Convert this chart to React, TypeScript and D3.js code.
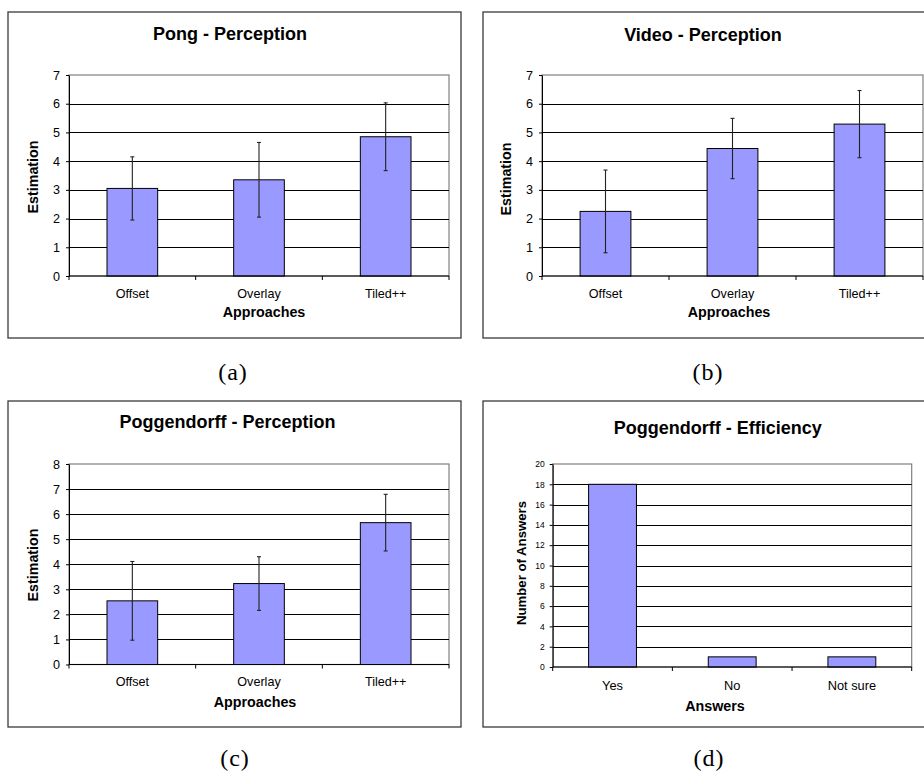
import React, { useRef, useEffect } from "react";
import * as d3 from "d3";

// categories
const approaches = ["Offset", "Overlay", "Tiled++"];
const answers = ["Yes", "No", "Not sure"];

// Pong - Perception
const pongMean = [3.05, 3.35, 4.85];
const pongErr = [1.1, 1.3, 1.18];

// Video - Perception
const videoMean = [2.25, 4.44, 5.29];
const videoErr = [1.44, 1.05, 1.17];

// Poggendorff - Perception
const poggMean = [2.54, 3.23, 5.66];
const poggErr = [1.57, 1.07, 1.13];

// Poggendorff - Efficiency
const poggCounts = [18, 1, 1];

const captions = ["(a)", "(b)", "(c)", "(d)"];

const SANS = "'Liberation Sans', Arial, sans-serif";
const BAR = "#9999ff";

type Panel = {
  title: string;
  cats: string[];
  values: number[];
  errors?: number[];
  yMax: number;
  yStep: number;
  xTitle: string;
  yTitle: string;
  box: [number, number, number, number];
  plot: [number, number, number, number]; // left, top, right, bottom
  titleX: number;
  titleY: number;
  xTitleX: number;
  yTitleY: number;
  yTitleX: number;
  tickFont: number;
  yTickFont: number;
  yTitleFont: number;
  tickPad: number;
  xLabelPad: number;
  xTitleOff: number;
  caption: string;
  capX: number;
  capY: number;
};

const panels: Panel[] = [
  {
    title: "Pong - Perception", cats: approaches, values: pongMean, errors: pongErr,
    yMax: 7, yStep: 1, xTitle: "Approaches", yTitle: "Estimation",
    box: [8, 12, 461, 338], plot: [69, 75, 449, 276],
    titleX: 230, titleY: 40, xTitleX: 264, yTitleX: 32.5, yTitleY: 177,
    tickFont: 12.6, yTickFont: 12.6, yTitleFont: 14.3, tickPad: 6, xLabelPad: 13, xTitleOff: 41,
    caption: captions[0], capX: 233, capY: 380,
  },
  {
    title: "Video - Perception", cats: approaches, values: videoMean, errors: videoErr,
    yMax: 7, yStep: 1, xTitle: "Approaches", yTitle: "Estimation",
    box: [483, 12, 940, 338], plot: [542, 75, 923, 276],
    titleX: 703, titleY: 41, xTitleX: 729, yTitleX: 506, yTitleY: 179,
    tickFont: 12.6, yTickFont: 12.6, yTitleFont: 14.3, tickPad: 6, xLabelPad: 13, xTitleOff: 41,
    caption: captions[1], capX: 708, capY: 380,
  },
  {
    title: "Poggendorff - Perception", cats: approaches, values: poggMean, errors: poggErr,
    yMax: 8, yStep: 1, xTitle: "Approaches", yTitle: "Estimation",
    box: [8, 401, 461, 727], plot: [69, 464, 449, 664.5],
    titleX: 227.5, titleY: 428, xTitleX: 255, yTitleX: 32.5, yTitleY: 565,
    tickFont: 12.6, yTickFont: 12.6, yTitleFont: 14.3, tickPad: 6, xLabelPad: 13, xTitleOff: 42,
    caption: captions[2], capX: 235, capY: 766,
  },
  {
    title: "Poggendorff - Efficiency", cats: answers, values: poggCounts,
    yMax: 20, yStep: 2, xTitle: "Answers", yTitle: "Number of Answers",
    box: [483, 401, 960, 727], plot: [552.7, 464, 911.7, 667],
    titleX: 717.7, titleY: 434, xTitleX: 715, yTitleX: 521.7, yTitleY: 563,
    tickFont: 12.8, yTickFont: 8.5, yTitleFont: 13.2, tickPad: 5, xLabelPad: 14, xTitleOff: 44,
    caption: captions[3], capX: 709, capY: 766,
  },
];

function drawPanel(svg: d3.Selection<SVGSVGElement, unknown, null, undefined>, p: Panel) {
  const [L, T, R, B] = p.plot;
  const g = svg.append("g");

  // outer frame
  g.append("rect")
    .attr("x", p.box[0]).attr("y", p.box[1])
    .attr("width", p.box[2] - p.box[0]).attr("height", p.box[3] - p.box[1])
    .attr("fill", "white").attr("stroke", "#3a3a3a").attr("stroke-width", 1.3);

  const x = d3.scaleBand().domain(p.cats).range([L, R]).padding(0);
  const y = d3.scaleLinear().domain([0, p.yMax]).range([B, T]);
  const ticks = d3.range(0, p.yMax + p.yStep / 2, p.yStep);

  // plot area border
  g.append("rect")
    .attr("x", L).attr("y", T).attr("width", R - L).attr("height", B - T)
    .attr("fill", "white").attr("stroke", "#808080").attr("stroke-width", 1.2);

  // gridlines
  g.append("g")
    .selectAll("line")
    .data(ticks.filter(t => t > 0 && t < p.yMax))
    .join("line")
    .attr("x1", L).attr("x2", R)
    .attr("y1", d => Math.round(y(d)) + 0.5).attr("y2", d => Math.round(y(d)) + 0.5)
    .attr("stroke", "#000").attr("stroke-width", 1);

  // bars
  const bw = x.bandwidth() * 0.4;
  g.append("g")
    .selectAll("rect")
    .data(p.values)
    .join("rect")
    .attr("x", (d, i) => (x(p.cats[i]) as number) + x.bandwidth() * 0.3)
    .attr("y", d => y(d))
    .attr("width", bw)
    .attr("height", d => B - y(d))
    .attr("fill", BAR).attr("stroke", "#000").attr("stroke-width", 1);

  // error bars
  if (p.errors) {
    const eg = g.append("g").attr("stroke", "#222").attr("stroke-width", 1.1);
    p.values.forEach((v, i) => {
      const cx = (x(p.cats[i]) as number) + x.bandwidth() / 2;
      const e = p.errors![i];
      eg.append("line").attr("x1", cx).attr("x2", cx).attr("y1", y(v + e)).attr("y2", y(v - e));
      eg.append("line").attr("x1", cx - 2).attr("x2", cx + 2).attr("y1", y(v + e)).attr("y2", y(v + e));
      eg.append("line").attr("x1", cx - 2).attr("x2", cx + 2).attr("y1", y(v - e)).attr("y2", y(v - e));
    });
  }

  // y axis
  g.append("g")
    .attr("transform", `translate(${L},0)`)
    .call(d3.axisLeft(y).tickValues(ticks).tickFormat(d3.format("d")).tickSize(3).tickPadding(p.tickPad).tickSizeOuter(0))
    .call(a => a.select(".domain").attr("stroke", "#000"))
    .call(a => a.selectAll("text").style("font-size", `${p.yTickFont}px`).style("font-family", SANS).attr("fill", "#000"));

  // x axis
  g.append("g")
    .attr("transform", `translate(0,${B})`)
    .call(d3.axisBottom(x).tickSize(0).tickPadding(p.xLabelPad))
    .call(a => a.select(".domain").remove())
    .call(a => a.selectAll("text").style("font-size", `${p.tickFont}px`).style("font-family", SANS).attr("fill", "#000"));

  g.append("line").attr("x1", L).attr("x2", R).attr("y1", B).attr("y2", B)
    .attr("stroke", "#000").attr("stroke-width", 1.2);
  g.append("g")
    .selectAll("line")
    .data([...p.cats.map(c => x(c) as number), R])
    .join("line")
    .attr("x1", d => d).attr("x2", d => d).attr("y1", B).attr("y2", B + 4)
    .attr("stroke", "#000");

  // titles
  g.append("text")
    .attr("x", p.titleX).attr("y", p.titleY)
    .attr("text-anchor", "middle")
    .style("font-family", SANS).style("font-weight", "bold").style("font-size", "18px")
    .text(p.title);

  g.append("text")
    .attr("x", p.xTitleX).attr("y", B + p.xTitleOff)
    .attr("text-anchor", "middle")
    .style("font-family", SANS).style("font-weight", "bold").style("font-size", "14.3px")
    .text(p.xTitle);

  g.append("text")
    .attr("transform", `translate(${p.yTitleX},${p.yTitleY}) rotate(-90)`)
    .attr("text-anchor", "middle").attr("dy", "0.36em")
    .style("font-family", SANS).style("font-weight", "bold").style("font-size", `${p.yTitleFont}px`)
    .text(p.yTitle);

  // caption
  svg.append("text")
    .attr("x", p.capX).attr("y", p.capY)
    .attr("text-anchor", "middle")
    .style("font-family", "'Liberation Serif', 'DejaVu Serif', serif")
    .style("font-size", "24px").style("letter-spacing", "1px")
    .text(p.caption);
}

export default function App() {
  const svgRef = useRef<SVGSVGElement>(null);

  useEffect(() => {
    const svg = d3.select(svgRef.current!);
    svg.selectAll("*").remove();
    svg.append("rect").attr("width", 924).attr("height", 771).attr("fill", "white");
    panels.forEach(p => drawPanel(svg, p));
  }, []);

  return (
    <svg
      ref={svgRef}
      width={924}
      height={771}
      style={{ position: "absolute", left: 0, top: 0, display: "block" }}
    />
  );
}
